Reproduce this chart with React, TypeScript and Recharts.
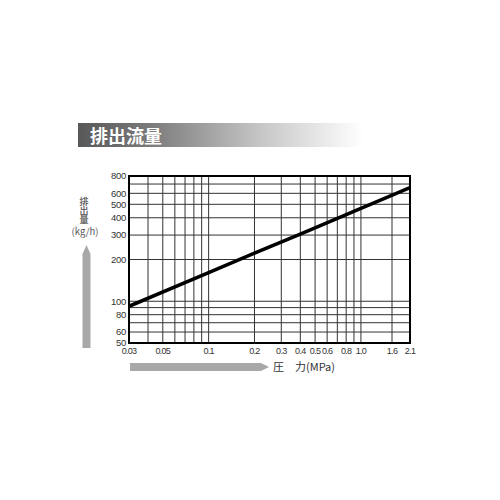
import React from 'react'
import { LineChart, Line, XAxis, YAxis, CartesianGrid, ReferenceArea } from 'recharts'

// pressure (MPa) vs discharge (kg/h), log-log
const pressure = [0.03, 0.1, 0.2, 0.4, 1.0, 2.1]
const discharge = [92, 161, 222, 305, 467, 660]

const xGridTicks = [0.03, 0.04, 0.05, 0.06, 0.07, 0.08, 0.09, 0.1, 0.2, 0.3, 0.4, 0.5, 0.6, 0.7, 0.8, 0.9, 1.0, 1.6, 2.1]
const xLabelTicks = [0.03, 0.05, 0.1, 0.2, 0.3, 0.4, 0.5, 0.6, 0.8, 1.0, 1.6, 2.1]
const yGridTicks = [50, 60, 70, 80, 90, 100, 200, 300, 400, 500, 600, 700, 800]
const yLabelTicks = [50, 60, 80, 100, 200, 300, 400, 500, 600, 800]

const data = pressure.map((p, i) => ({ p, q: discharge[i] }))

const fontFamily = "'Liberation Sans', Arial, sans-serif"
const xTickFont = { fontSize: 9, fill: '#333', fontFamily, letterSpacing: -0.7 }
const yTickFont = { fontSize: 9.5, fill: '#333', fontFamily, letterSpacing: -0.3 }

const fmtX = (v: number) => (xLabelTicks.includes(v) ? (v === 1 ? '1.0' : String(v)) : '')
const fmtY = (v: number) => (yLabelTicks.includes(v) ? String(v) : '')

export default function App() {
  return (
    <div style={{ position: 'absolute', left: 0, top: 0, width: 500, height: 500, background: '#fff' }}>
      {/* title band */}
      <div
        style={{
          position: 'absolute',
          left: 78,
          top: 123,
          width: 285,
          height: 24,
          background: 'linear-gradient(to right, #585858 0%, #7a7a7a 25%, #c8c8c8 65%, #ffffff 100%)',
        }}
      >
        <span
          style={{
            position: 'absolute',
            left: 12,
            top: 1,
            color: '#fff',
            fontSize: 18,
            fontWeight: 'bold',
            lineHeight: '22px',
            fontFamily: "'Noto Sans CJK JP', sans-serif",
          }}
        >
          排出流量
        </span>
      </div>

      <LineChart width={500} height={500} data={data} margin={{ top: 176, right: 90, bottom: 127, left: 99 }}>
        <CartesianGrid stroke="#333" strokeWidth={1} />
        <XAxis
          dataKey="p"
          type="number"
          scale="log"
          domain={[0.03, 2.1]}
          ticks={xGridTicks}
          interval={0}
          tickFormatter={fmtX}
          tick={xTickFont}
          tickLine={false}
          axisLine={false}
          tickSize={0}
          tickMargin={5}
          height={30}
          allowDataOverflow
        />
        <YAxis
          type="number"
          scale="log"
          domain={[50, 800]}
          ticks={yGridTicks}
          interval={0}
          tickFormatter={fmtY}
          tick={yTickFont}
          tickLine={false}
          axisLine={false}
          tickSize={0}
          tickMargin={3}
          width={30}
          allowDataOverflow
        />
        <ReferenceArea x1={0.03} x2={2.1} y1={50} y2={800} fill="none" stroke="#000" strokeWidth={2} />
        <Line type="linear" dataKey="q" stroke="#000" strokeWidth={3.5} dot={false} isAnimationActive={false} />
      </LineChart>

      {/* axis captions with arrows */}
      <svg style={{ position: 'absolute', left: 0, top: 0 }} width={500} height={500}>
        <text
          x={84}
          y={211}
          fontFamily="'Noto Sans CJK JP', sans-serif"
          fill="#6a6a6a"
          fontWeight="bold"
          fontSize={9}
          textAnchor="middle"
          style={{ writingMode: 'vertical-rl' }}
        >
          排出量
        </text>
        <text
          x={85}
          y={230.5}
          fontFamily="'Noto Sans CJK JP', sans-serif"
          fill="#555"
          fontSize={9.5}
          textAnchor="middle"
          dominantBaseline="central"
        >
          (kg/h)
        </text>
        <polygon points="82.5,348 90.5,348 90.5,254 86.5,245 82.5,254" fill="#a8a8a8" />
        <polygon points="130,363 261,363 269,367 261,371 130,371" fill="#a8a8a8" />
        <text x={273} y={371} fontFamily="'Noto Sans CJK JP', sans-serif" fontSize={11} fill="#333">
          圧　力(MPa)
        </text>
      </svg>
    </div>
  )
}
